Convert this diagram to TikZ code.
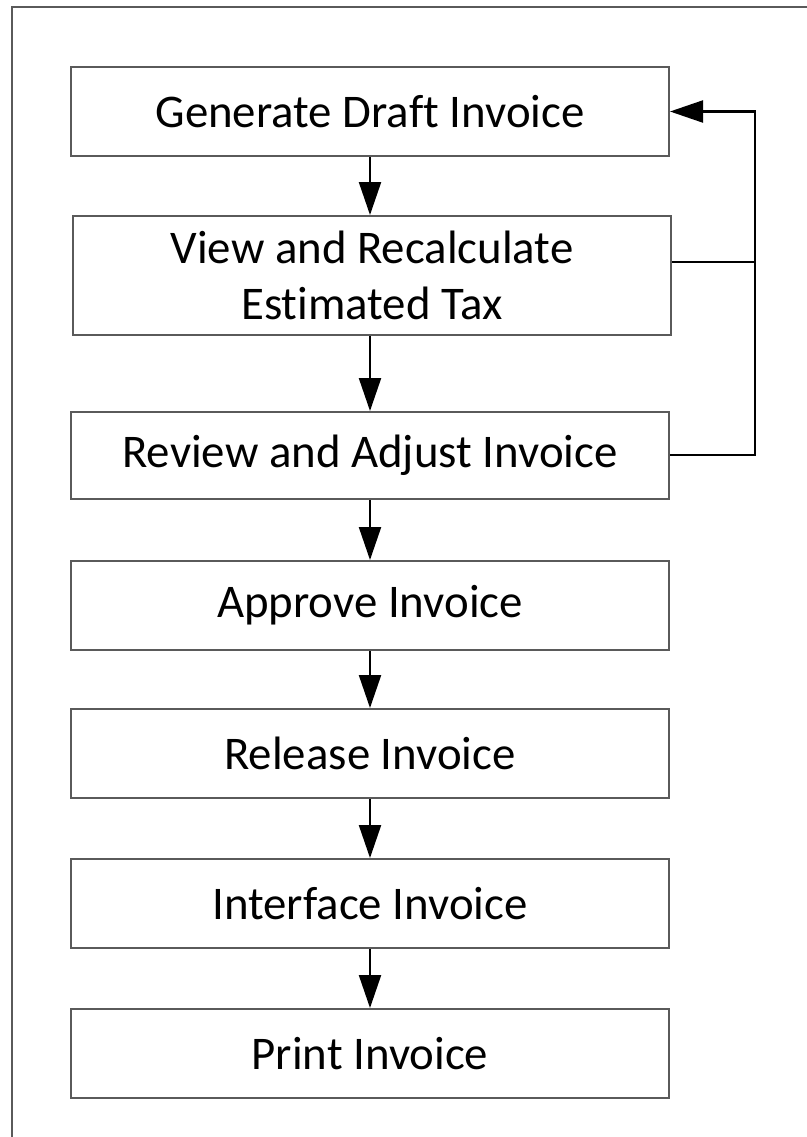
\documentclass[tikz,border=0pt]{standalone}
\usepackage{fontspec}
\setmainfont[Ligatures=NoCommon]{Carlito}
\usetikzlibrary{arrows.meta}
\definecolor{boxline}{HTML}{5A5A5A}
\begin{document}
\begin{tikzpicture}[x=1bp,y=-1bp,
  stepbox/.style={draw=boxline,line width=2bp,minimum width=598bp,minimum height=89bp,
    inner sep=0pt,align=center,font=\fontsize{47}{57}\selectfont,anchor=north west},
  flow/.style={draw=black,line width=2.2bp,-{Triangle[length=33bp,width=22bp]}},
  link/.style={draw=black,line width=2.2bp}]
\useasboundingbox (0,0) rectangle (807,1137);
% page frame: only left and top edges are visible
\draw[boxline,line width=2bp] (12,1140) -- (12,7) -- (810,7);
\node[stepbox] (gen) at (70,66) {Generate Draft Invoice};
\node[stepbox,minimum width=598bp,minimum height=119bp] (view) at (72,215) {View and Recalculate\\Estimated Tax};
\node[stepbox,minimum height=87bp] (rev) at (70,411) {Review and Adjust Invoice};
\node[stepbox] (app) at (70,560) {Approve Invoice};
\node[stepbox] (rel) at (70,708) {Release Invoice};
\node[stepbox] (int) at (70,858) {Interface Invoice};
\node[stepbox] (prt) at (70,1008) {Print Invoice};
\draw[flow] (gen.south) -- (gen.south |- view.north);
\draw[flow] (view.south -| gen.south) -- (rev.north -| gen.south);
\draw[flow] (rev.south) -- (app.north);
\draw[flow] (app.south) -- (rel.north);
\draw[flow] (rel.south) -- (int.north);
\draw[flow] (int.south) -- (prt.north);
% feedback loop back to the draft step
\coordinate (rail) at (755,455);
\draw[flow] (rev.east |- rail) -- (rail) |- (gen.east);
\draw[link] (view.east |- 0,262) -- (rail |- 0,262);
\end{tikzpicture}
\end{document}
